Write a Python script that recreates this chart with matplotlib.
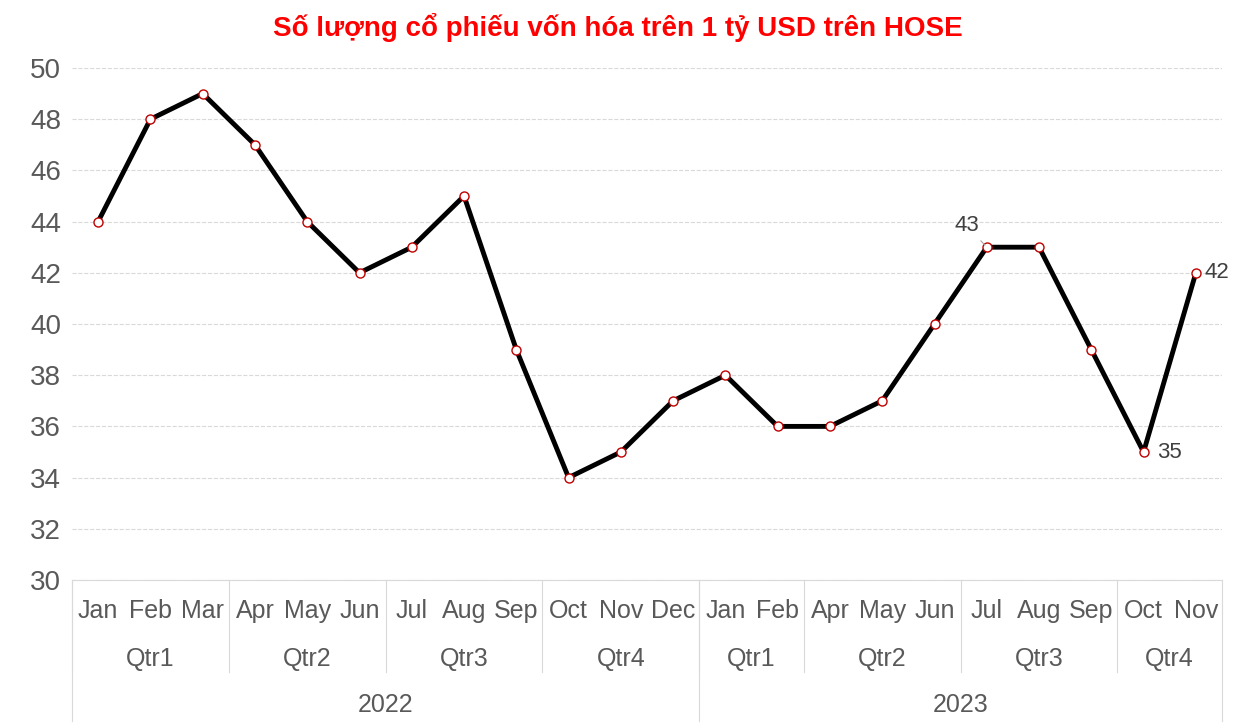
import matplotlib.pyplot as plt
import matplotlib.transforms as mtransforms

plt.rcParams["font.family"] = "Liberation Sans"

months = ["Jan", "Feb", "Mar", "Apr", "May", "Jun", "Jul", "Aug", "Sep", "Oct", "Nov", "Dec",
          "Jan", "Feb", "Apr", "May", "Jun", "Jul", "Aug", "Sep", "Oct", "Nov"]
quarters = ["Qtr1", "Qtr2", "Qtr3", "Qtr4", "Qtr1", "Qtr2", "Qtr3", "Qtr4"]
quarter_sizes = [3, 3, 3, 3, 2, 3, 3, 2]
years = ["2022", "2023"]
year_sizes = [12, 10]
values = [44, 48, 49, 47, 44, 42, 43, 45, 39, 34, 35, 37,
          38, 36, 36, 37, 40, 43, 43, 39, 35, 42]

fig = plt.figure(figsize=(12.36, 7.27), dpi=100)
ax = fig.add_axes([72 / 1236, 147 / 727, 1150 / 1236, 512 / 727])
x = list(range(len(values)))
ax.plot(x, values, color="black", lw=3.5, zorder=2)
ax.plot(x, values, "o", ms=6.5, mfc="white", mec="#c00000", mew=1, zorder=3)
ax.set_xlim(-0.5, len(values) - 0.5)
ax.set_ylim(30, 50)
ax.set_yticks(range(30, 51, 2))
ax.tick_params(axis="y", labelsize=20, labelcolor="#595959", length=0, pad=8)
ax.set_xticks([])
ax.grid(axis="y", color="#d9d9d9", lw=0.8, ls="--")
for s in ["top", "right", "left"]:
    ax.spines[s].set_visible(False)
ax.spines["bottom"].set_color("#d9d9d9")

tr = mtransforms.blended_transform_factory(ax.transData, ax.transAxes)
txt = dict(fontsize=18, color="#595959", ha="center", va="center", transform=tr)
for i, m in enumerate(months):
    ax.text(i, -0.06, m, **txt)

lc = "#d9d9d9"
pos = 0
for q, n in zip(quarters, quarter_sizes):
    ax.text(pos + (n - 1) / 2, -0.155, q, **txt)
    ax.plot([pos - 0.5, pos - 0.5], [0, -0.18], color=lc, lw=0.8, transform=tr, clip_on=False)
    pos += n
pos = 0
for y, n in zip(years, year_sizes):
    ax.text(pos + (n - 1) / 2, -0.245, y, **txt)
    ax.plot([pos - 0.5, pos - 0.5], [0, -0.275], color=lc, lw=0.8, transform=tr, clip_on=False)
    pos += n
ax.plot([pos - 0.5, pos - 0.5], [0, -0.275], color=lc, lw=0.8, transform=tr, clip_on=False)

lab = dict(fontsize=16, color="#404040")
ax.annotate("43", (17, 43), xytext=(17 - 0.15, 43.85), ha="right", va="center",
            arrowprops=dict(arrowstyle="-", color="#a6a6a6", lw=0.8), **lab)
ax.annotate("35", (20, 35), xytext=(10, 0), textcoords="offset points", va="center", **lab)
ax.annotate("42", (21, 42), xytext=(6, 0), textcoords="offset points", va="center", **lab)

fig.text(0.5, 0.962, "Số lượng cổ phiếu vốn hóa trên 1 tỷ USD trên HOSE", ha="center",
         va="center", color="#ff0000", fontsize=20, fontweight="bold")
fig.savefig("out.png", dpi=100)
